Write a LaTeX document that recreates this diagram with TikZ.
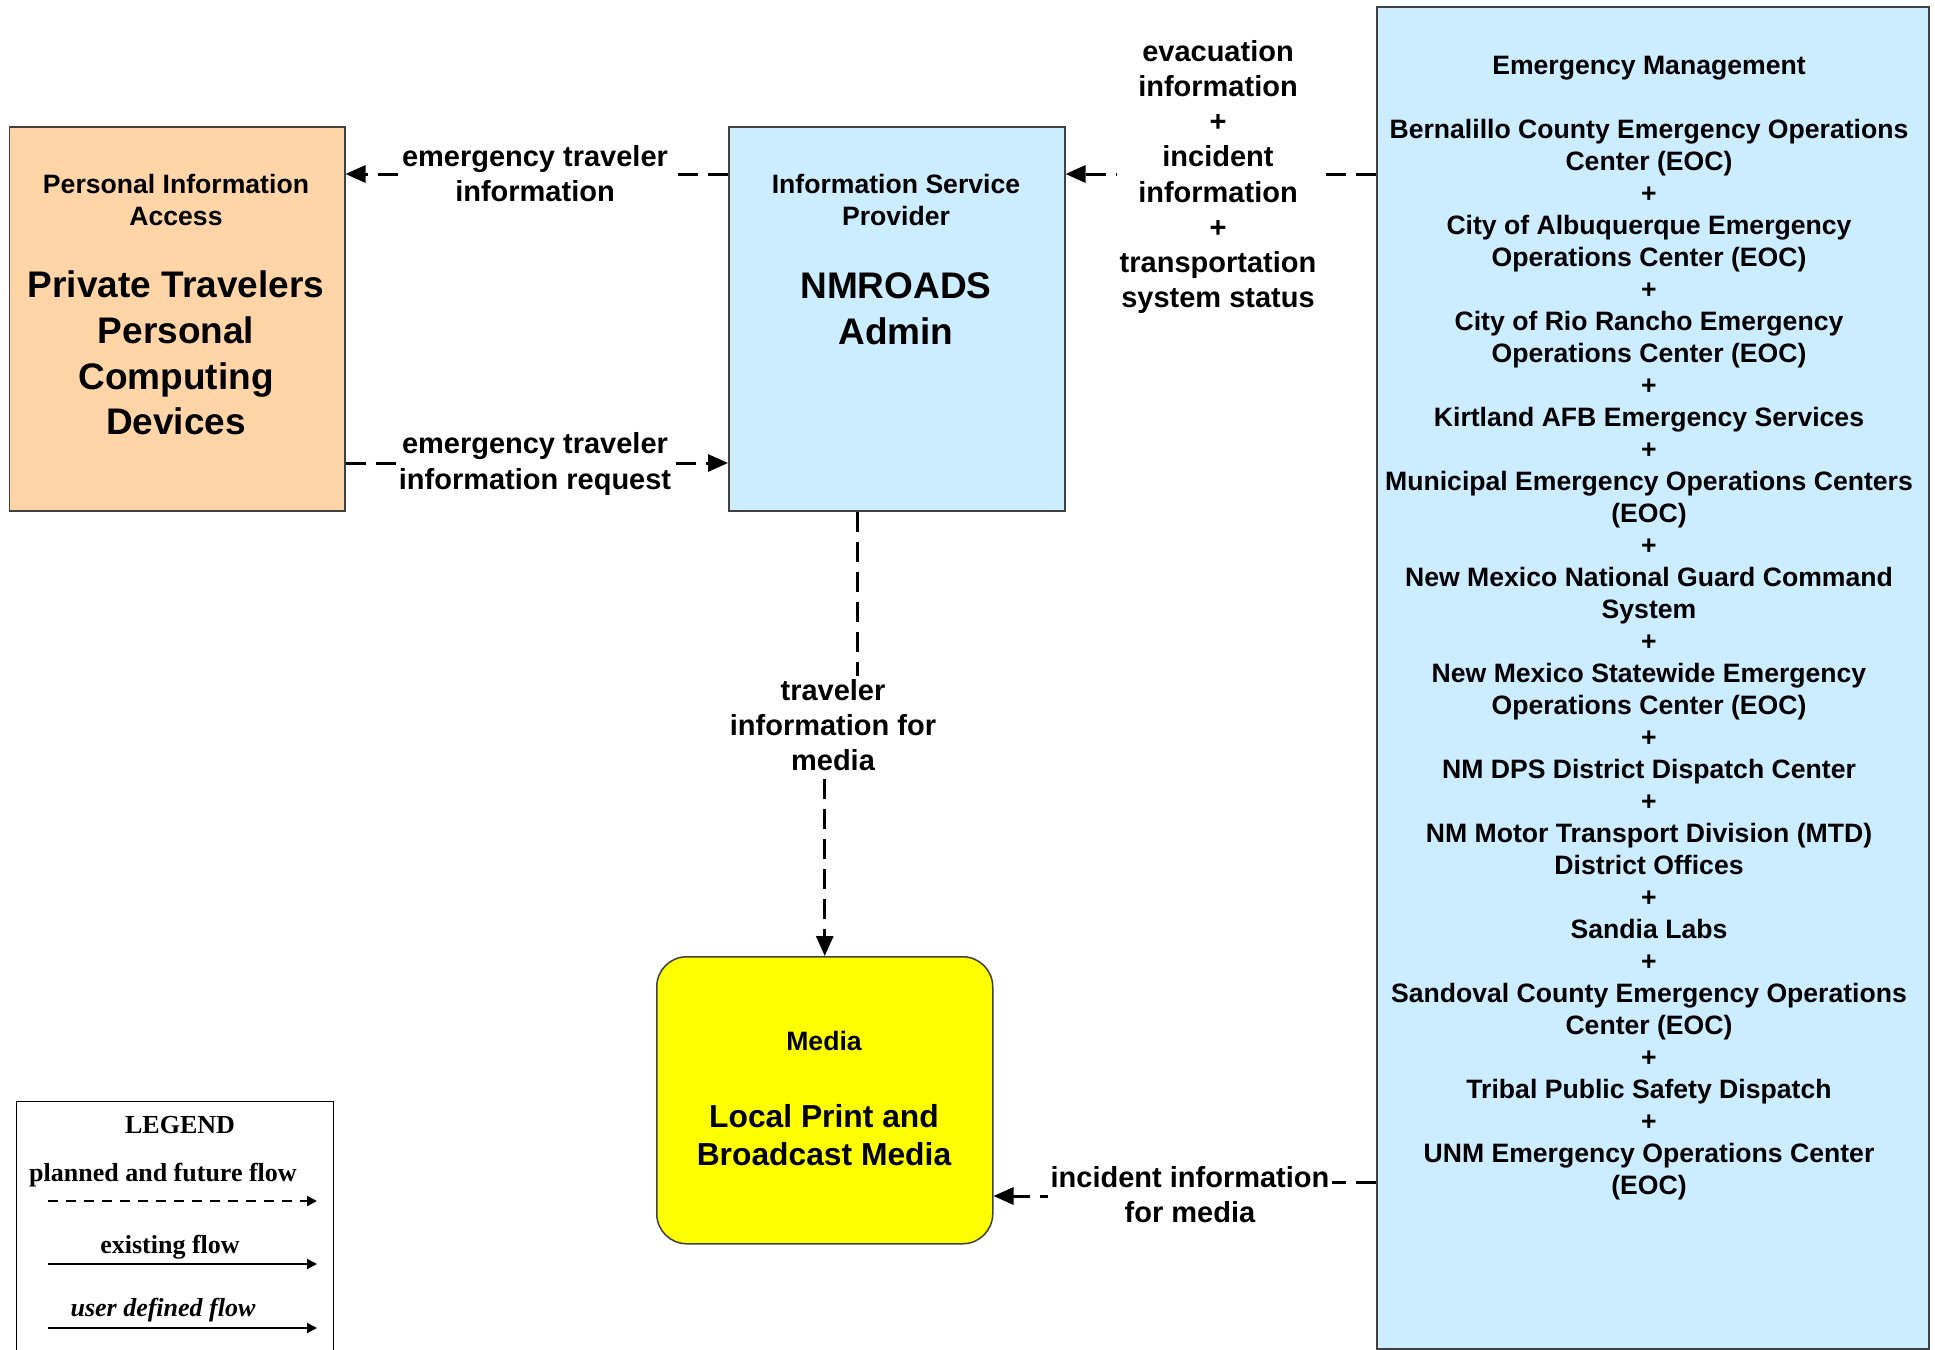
\documentclass[tikz,border=0pt]{standalone}
\usepackage{fontspec}
\setmainfont{Liberation Sans}
\newfontfamily\legendfont{Liberation Serif}
\usetikzlibrary{arrows.meta,calc}
\definecolor{peach}{RGB}{255,213,168}
\definecolor{lblue}{RGB}{204,236,255}
\definecolor{yel}{RGB}{255,255,0}
\begin{document}
\begin{tikzpicture}[x=0.5pt,y=-0.5pt,
  box/.style={draw=black!75, line width=0.75pt, inner sep=0pt, anchor=north west},
  flow/.style={line width=1.5pt, dash pattern=on 10pt off 5pt, -{Triangle[length=10pt,width=8.5pt]}},
  lbl/.style={font=\fontsize{14.5}{17.6}\selectfont\bfseries, align=center, fill=white, inner sep=1.5pt},
  hdr/.style={font=\fontsize{13.3}{16}\selectfont\bfseries, align=center, inner sep=0pt},
  bigt/.style={font=\fontsize{18.5}{22.8}\selectfont\bfseries, align=center, inner sep=0pt},
  medt/.style={font=\fontsize{15.9}{19}\selectfont\bfseries, align=center, inner sep=0pt},
  legt/.style={font=\legendfont\fontsize{13}{15}\selectfont\bfseries, inner sep=0pt},
  legarrow/.style={line width=1pt, -{Triangle[length=5pt,width=5pt]}}
]
\useasboundingbox (0,0) rectangle (1935,1350);

% boxes
\node[box, fill=peach, minimum width=167.7pt, minimum height=192pt] (pers) at (8.6,126) {};
\node[box, fill=lblue, minimum width=168pt, minimum height=192pt] (isp) at (728,126) {};
\node[box, fill=lblue, minimum width=276pt, minimum height=671pt] (em) at (1376,6) {};
\node[box, fill=yel, rounded corners=15pt, minimum width=168pt, minimum height=143.5pt] (media) at (656,956) {};
\node[draw=black, line width=0.6pt, inner sep=0pt, anchor=north west, minimum width=158.5pt, minimum height=130pt] (legend) at (16,1101) {};

% box texts
\node[hdr] (pers-h) at (176,200) {Personal Information\\Access};
\node[bigt] (pers-t) at (176,353) {Private Travelers\\Personal\\Computing\\Devices};
\node[hdr] (isp-h) at (896,200) {Information Service\\Provider};
\node[bigt] (isp-t) at (896,309) {NMROADS\\Admin};
\node[hdr] (med-h) at (824,1041) {Media};
\node[medt] (med-t) at (824,1135) {Local Print and\\Broadcast Media};
\node[hdr] (em-t) at (1649,628) {Emergency Management\\[16pt]
Bernalillo County Emergency Operations\\Center (EOC)\\+\\
City of Albuquerque Emergency\\Operations Center (EOC)\\+\\
City of Rio Rancho Emergency\\Operations Center (EOC)\\+\\
Kirtland AFB Emergency Services\\+\\
Municipal Emergency Operations Centers\\(EOC)\\+\\
New Mexico National Guard Command\\System\\+\\
New Mexico Statewide Emergency\\Operations Center (EOC)\\+\\
NM DPS District Dispatch Center\\+\\
NM Motor Transport Division (MTD)\\District Offices\\+\\
Sandia Labs\\+\\
Sandoval County Emergency Operations\\Center (EOC)\\+\\
Tribal Public Safety Dispatch\\+\\
UNM Emergency Operations Center\\(EOC)};

% connectors
\coordinate (j1) at (857,725);
\coordinate (j2) at (1190,1182);
\coordinate (j3) at (1190,1196);
\draw[flow] (isp.west |- 0,174) -- (pers.east |- 0,174);
\draw[flow] (pers.east |- 0,463) -- (isp.west |- 0,463);
\draw[flow] (em.west |- 0,174) -- (isp.east |- 0,174);
\draw[flow] (isp.south -| j1) -- (j1) -- (j1 -| media.north) -- (media.north);
\draw[flow] (em.west |- j2) -- (j2) -- (j3) -- (media.east |- j3);

% connector labels
\node[lbl] (l1) at (535,174) {emergency traveler\\information};
\node[lbl] (l2) at (535,464) {emergency traveler\\information request};
\node[lbl] (l3) at (1218,177) {evacuation\\information\\+\\incident\\information\\+\\transportation\\system status};
\node[lbl] (l4) at (833,725) {traveler\\information for\\media};
\node[lbl] (l5) at (1190,1195) {incident information\\for media};

% legend
\node[legt] (lg1) at (180,1125) {LEGEND};
\node[legt] (lg2) at (163,1175) {planned and future flow};
\node[legt] (lg3) at (170,1247) {existing flow};
\node[legt, font=\legendfont\fontsize{13}{15}\selectfont\bfseries\itshape] (lg4) at (163,1310) {user defined flow};
\coordinate (la) at (48,1201); \coordinate (lb) at (317,1201);
\coordinate (lc) at (48,1264); \coordinate (ld) at (317,1264);
\coordinate (le) at (48,1328); \coordinate (lf) at (317,1328);
\draw[legarrow, dash pattern=on 5pt off 4pt] (la) -- (lb);
\draw[legarrow] (lc) -- (ld);
\draw[legarrow] (le) -- (lf);
\end{tikzpicture}
\end{document}
